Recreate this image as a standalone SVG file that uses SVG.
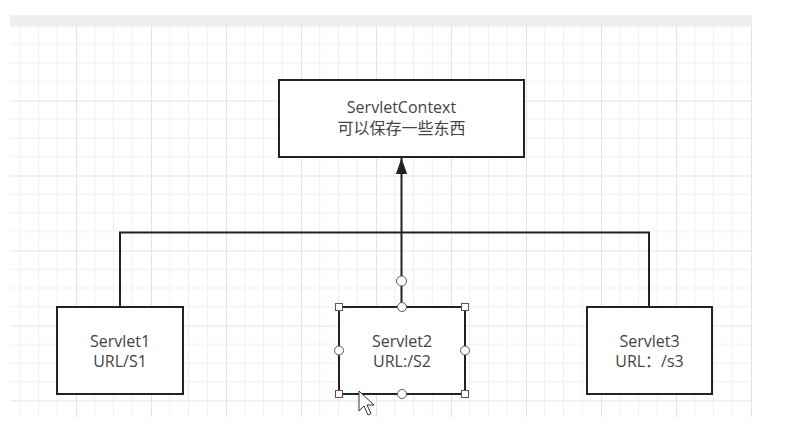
<svg xmlns="http://www.w3.org/2000/svg" width="799" height="436" viewBox="0 0 799 436">
  <defs>
    <pattern id="grid" x="1" y="25.5" width="75" height="75" patternUnits="userSpaceOnUse">
      <path d="M18.75 0V75M37.5 0V75M56.25 0V75M0 18.75H75M0 37.5H75M0 56.25H75" stroke="#efefef" stroke-width="1" fill="none"/>
      <path d="M0.5 0V75M0 0.5H75" stroke="#e3e3e3" stroke-width="1" fill="none"/>
    </pattern>
    <marker id="arrow" markerUnits="userSpaceOnUse" markerWidth="16" markerHeight="22" refX="20" refY="7" viewBox="0 0 20 14" orient="auto">
      <path d="M0,0 L20,7 L0,14 z" fill="#222"/>
    </marker>
    <style>
      .box { fill: #ffffff; stroke: #222222; stroke-width: 2; }
      .edge { fill: none; stroke: #222222; stroke-width: 2; }
      .label { font-family: "Open Sans", "Noto Sans CJK SC", sans-serif; font-size: 16px; fill: #444444; text-anchor: middle; }
      .hsq { fill: #ffffff; stroke: #7a4a4a; stroke-width: 1; }
      .hci { fill: #ffffff; stroke: #7a4a4a; stroke-width: 1; }
    </style>
  </defs>

  <rect x="0" y="0" width="799" height="436" fill="#ffffff"/>
  <rect x="10" y="15" width="742" height="10" fill="#efefef"/>
  <rect x="10" y="25" width="742" height="392" fill="url(#grid)"/>

  <g id="connectors">
    <polyline class="edge" points="120,307 120,232.5 649,232.5 649,307"/>
    <line class="edge" x1="401.5" y1="307" x2="401.5" y2="158" marker-end="url(#arrow)"/>
  </g>

  <g id="servletcontext">
    <rect class="box" x="279" y="80" width="245" height="77"/>
    <text class="label" x="401.5" y="113">ServletContext</text>
    <text class="label" x="401.5" y="134">可以保存一些东西</text>
  </g>

  <g id="servlet1">
    <rect class="box" x="57" y="307" width="126" height="87"/>
    <text class="label" x="120" y="347">Servlet1</text>
    <text class="label" x="120" y="367">URL/S1</text>
  </g>

  <g id="servlet2">
    <rect class="box" x="339" y="307" width="126" height="87"/>
    <text class="label" x="402" y="347">Servlet2</text>
    <text class="label" x="402" y="367">URL:/S2</text>
    <g id="selection-handles">
      <rect class="hsq" x="335.5" y="303.5" width="7" height="7"/>
      <rect class="hsq" x="461.5" y="303.5" width="7" height="7"/>
      <rect class="hsq" x="335.5" y="390.5" width="7" height="7"/>
      <rect class="hsq" x="461.5" y="390.5" width="7" height="7"/>
      <circle class="hci" cx="402" cy="307" r="4.5"/>
      <circle class="hci" cx="402" cy="394" r="4.5"/>
      <circle class="hci" cx="339" cy="350.5" r="4.5"/>
      <circle class="hci" cx="465" cy="350.5" r="4.5"/>
      <circle class="hci" cx="401.5" cy="281" r="5"/>
    </g>
  </g>

  <g id="servlet3">
    <rect class="box" x="587" y="307" width="125" height="87"/>
    <text class="label" x="649.5" y="347">Servlet3</text>
    <text class="label" x="649.5" y="367">URL：/s3</text>
  </g>

  <g id="cursor">
    <polygon points="359,391 359,411 364,406 368,415 371,413.5 367,405 374,405" fill="#ffffff" stroke="#333333" stroke-width="1" stroke-linejoin="round"/>
  </g>
</svg>
